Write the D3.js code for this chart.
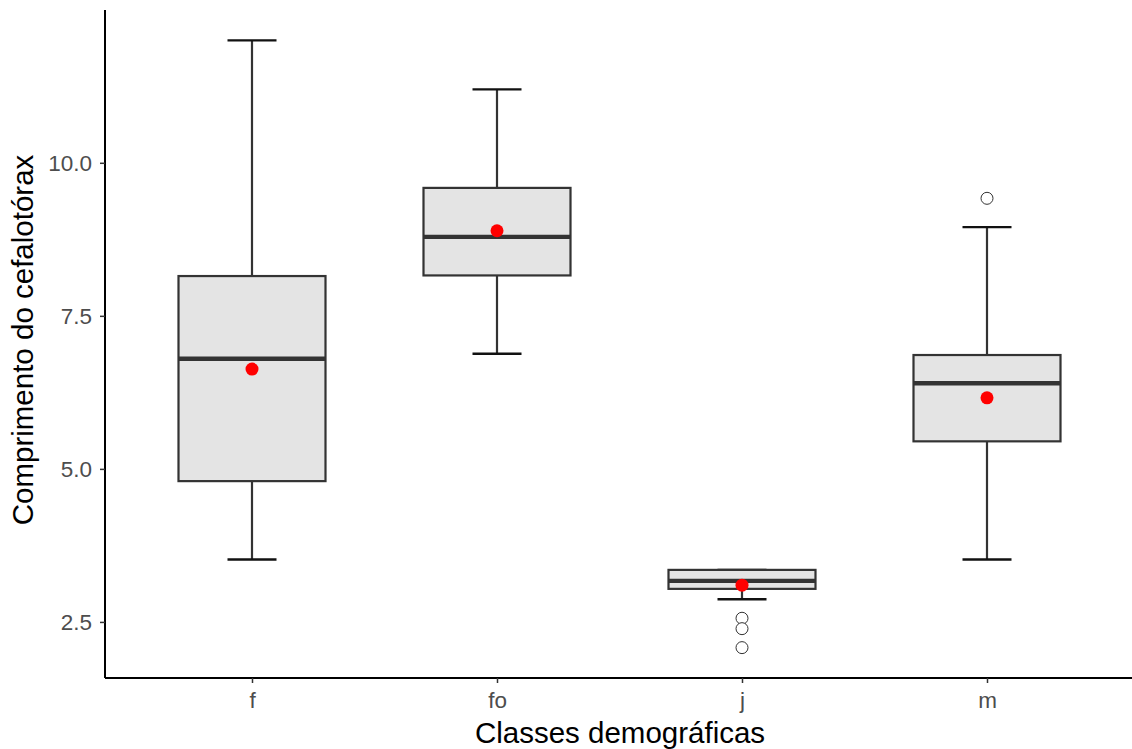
<!DOCTYPE html>
<html>
<head>
<meta charset="utf-8">
<script src="https://cdn.jsdelivr.net/npm/d3@7"></script>
<style>
  body { margin: 0; background: white; }
  svg { display: block; }
</style>
</head>
<body>
<div id="container"></div>
<script>
// classes and box stats
let classes = ['f', 'fo', 'j', 'm'];
let lowerWhisker = [3.52, 6.88, 2.87, 3.52];
let q1 = [4.80, 8.16, 3.04, 5.45];
let median = [6.80, 8.79, 3.17, 6.40];
let q3 = [8.15, 9.59, 3.35, 6.86];
let upperWhisker = [12.0, 11.2, 3.35, 8.95];
let means = [6.63, 8.89, 3.10, 6.16];
let outlierClass = ['j', 'j', 'j', 'm'];
let outlierValue = [2.56, 2.39, 2.08, 9.42];
let yTicks = [2.5, 5.0, 7.5, 10.0];

let w = 1132,
    h = 749,
    padLeft = 105,
    padRight = 1134,
    padTop = 10,
    padBottom = 678;

let viz = d3.select('#container')
    .append('svg')
      .attr('width', w)
      .attr('height', h)
      .style('font-family', 'Liberation Sans, Arial, sans-serif');

let boxes = classes.map((c, i) => ({
    cls: c, lo: lowerWhisker[i], q1: q1[i], med: median[i],
    q3: q3[i], hi: upperWhisker[i], mean: means[i]
}));
let outliers = outlierClass.map((c, i) => ({cls: c, v: outlierValue[i]}));

// ggplot style 5% expansion
let allVals = lowerWhisker.concat(upperWhisker, outlierValue);
let ymin = d3.min(allVals), ymax = d3.max(allVals), pad = (ymax - ymin) * 0.05;

let x = d3.scalePoint()
    .domain(classes)
    .range([padLeft, padRight])
    .padding(0.6);
let step = x.step();

let y = d3.scaleLinear()
    .domain([ymin - pad, ymax + pad])
    .range([padBottom, padTop]);

let boxW = step * 0.6,
    capW = step * 0.2;

let g = viz.append('g');

// error bar caps + whiskers
let eb = g.selectAll('.errbar').data(boxes).enter().append('g').attr('class', 'errbar');
eb.append('line')
    .attr('x1', d => x(d.cls)).attr('x2', d => x(d.cls))
    .attr('y1', d => y(d.lo)).attr('y2', d => y(d.hi))
    .attr('stroke', '#333').attr('stroke-width', 2.2);
eb.append('line')
    .attr('x1', d => x(d.cls) - capW / 2).attr('x2', d => x(d.cls) + capW / 2)
    .attr('y1', d => y(d.hi)).attr('y2', d => y(d.hi))
    .attr('stroke', '#111').attr('stroke-width', 2.4);
eb.append('line')
    .attr('x1', d => x(d.cls) - capW / 2).attr('x2', d => x(d.cls) + capW / 2)
    .attr('y1', d => y(d.lo)).attr('y2', d => y(d.lo))
    .attr('stroke', '#111').attr('stroke-width', 2.4);

// boxes
g.selectAll('.box').data(boxes).enter().append('rect')
    .attr('class', 'box')
    .attr('x', d => x(d.cls) - boxW / 2)
    .attr('width', boxW)
    .attr('y', d => y(d.q3))
    .attr('height', d => y(d.q1) - y(d.q3))
    .attr('fill', '#e4e4e4')
    .attr('stroke', '#333')
    .attr('stroke-width', 2.2);

// medians
g.selectAll('.median').data(boxes).enter().append('line')
    .attr('x1', d => x(d.cls) - boxW / 2).attr('x2', d => x(d.cls) + boxW / 2)
    .attr('y1', d => y(d.med)).attr('y2', d => y(d.med))
    .attr('stroke', '#333').attr('stroke-width', 4.4);

// outliers
g.selectAll('.outlier').data(outliers).enter().append('circle')
    .attr('cx', d => x(d.cls)).attr('cy', d => y(d.v))
    .attr('r', 6)
    .attr('fill', 'white')
    .attr('stroke', '#333')
    .attr('stroke-width', 1);

// means
g.selectAll('.mean').data(boxes).enter().append('circle')
    .attr('cx', d => x(d.cls)).attr('cy', d => y(d.mean))
    .attr('r', 6.5)
    .attr('fill', 'red');

// axes
let yAxis = viz.append('g')
    .attr('transform', 'translate(' + padLeft + ',0)')
    .call(d3.axisLeft(y).tickValues(yTicks).tickFormat(d3.format('.1f')).tickSize(5).tickPadding(8));
let xAxis = viz.append('g')
    .attr('transform', 'translate(0,' + padBottom + ')')
    .call(d3.axisBottom(x).tickSize(5).tickPadding(9));

[yAxis, xAxis].forEach(a => {
    a.select('.domain').attr('stroke', 'black').attr('stroke-width', 2);
    a.selectAll('.tick line').attr('stroke', '#333').attr('stroke-width', 1.5);
    a.selectAll('.tick text')
        .attr('fill', '#4d4d4d')
        .style('font-size', '22.5px')
        .style('font-family', 'Liberation Sans, Arial, sans-serif');
});
xAxis.select('.domain').attr('d', 'M' + padLeft + ',0H' + padRight);
yAxis.select('.domain').attr('d', 'M0,' + padBottom + 'V' + padTop);

// axis titles
viz.append('text')
    .attr('x', 620)
    .attr('y', 743)
    .attr('text-anchor', 'middle')
    .style('font-size', '29.5px')
    .attr('fill', 'black')
    .text('Classes demográficas');

viz.append('text')
    .attr('transform', 'translate(33,' + 340 + ') rotate(-90)')
    .attr('text-anchor', 'middle')
    .style('font-size', '29.5px')
    .attr('fill', 'black')
    .text('Comprimento do cefalotórax');
</script>
</body>
</html>
